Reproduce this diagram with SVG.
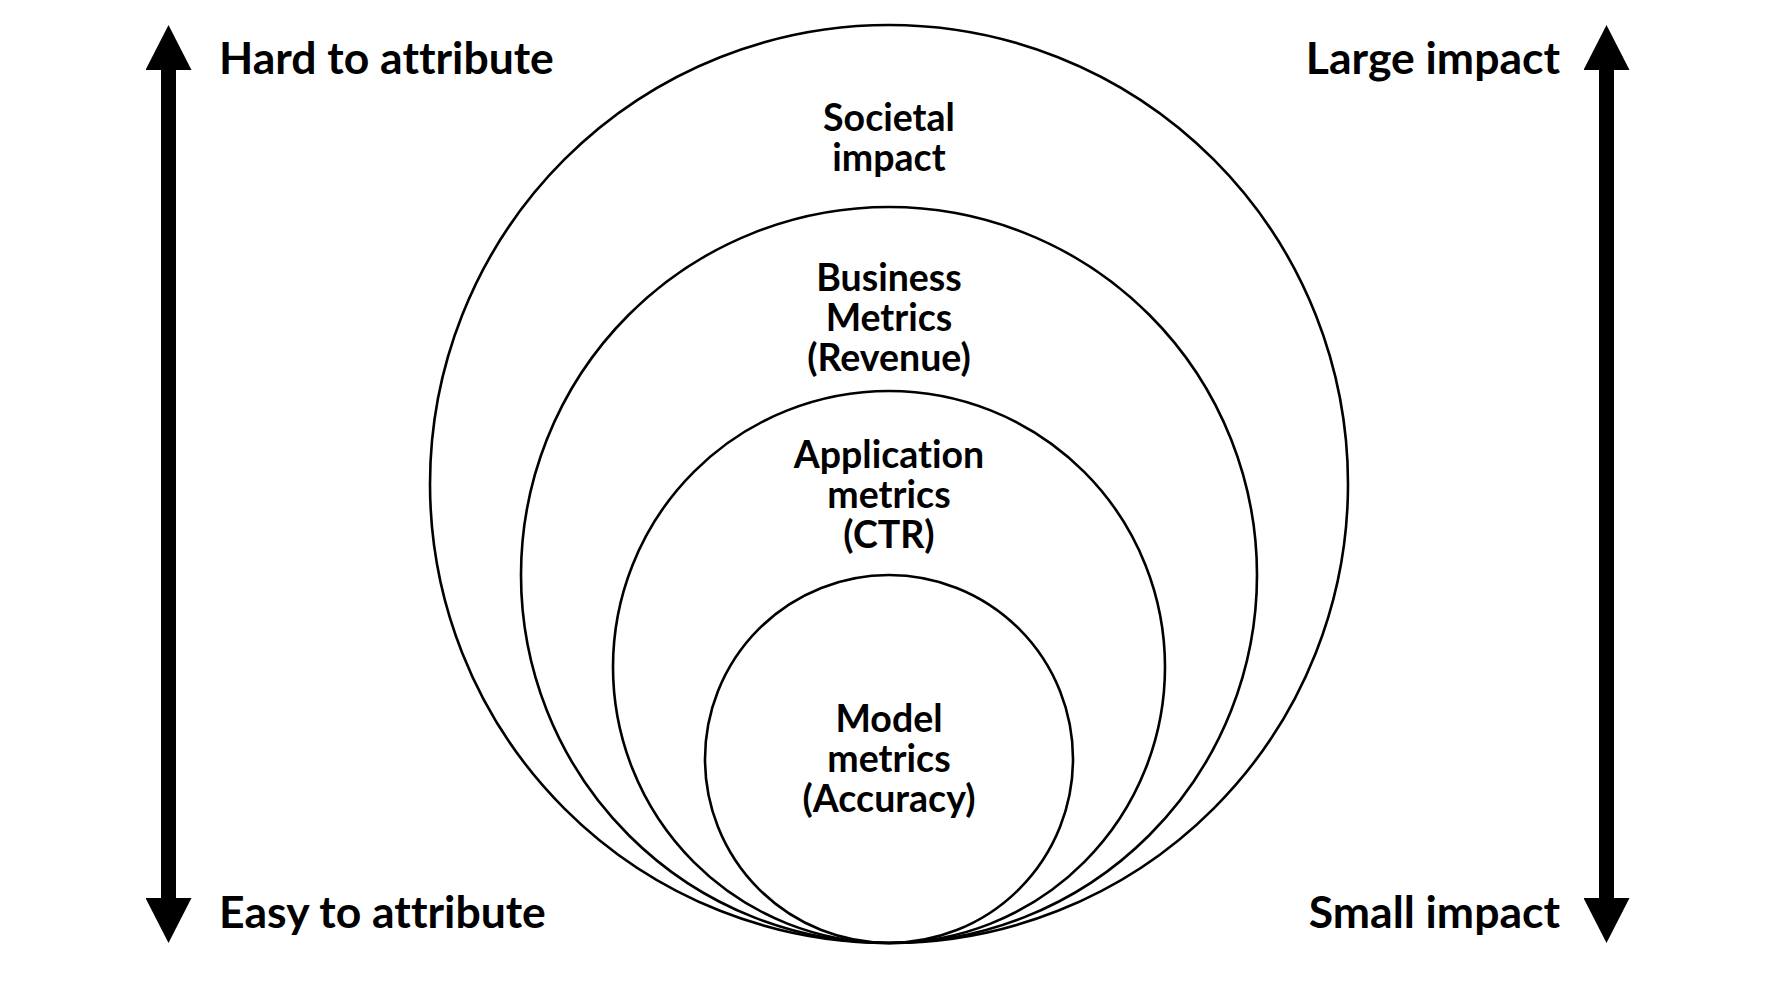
<svg xmlns="http://www.w3.org/2000/svg" width="1778" height="1000" viewBox="0 0 1778 1000">
  <defs>
    <style>
      .ring { fill: none; stroke: #000; stroke-width: 2.6; }
      .lbl { font-family: Lato, "Liberation Sans", sans-serif; font-weight: 700; fill: #000; font-variant-ligatures: none; }
      .side { font-size: 44.5px; }
      .inner { font-size: 37.5px; text-anchor: middle; }
      .axis { stroke: #000; stroke-width: 15; fill: none; marker-start: url(#head); marker-end: url(#head); }
    </style>
    <marker id="head" markerUnits="userSpaceOnUse" viewBox="0 0 45 46" refX="1" refY="23" markerWidth="45" markerHeight="46" orient="auto-start-reverse">
      <path d="M0,0 L45,23 L0,46 z" fill="#000"/>
    </marker>
  </defs>
  <rect width="1778" height="1000" fill="#fff"/>

  <g id="societal">
    <circle class="ring" cx="889" cy="484" r="459"/>
    <text class="lbl inner" x="889" y="131">Societal</text>
    <text class="lbl inner" x="889" y="171">impact</text>
  </g>
  <g id="business">
    <circle class="ring" cx="889" cy="575" r="368"/>
    <text class="lbl inner" x="889" y="291">Business</text>
    <text class="lbl inner" x="889" y="331">Metrics</text>
    <text class="lbl inner" x="889" y="371">(Revenue)</text>
  </g>
  <g id="application">
    <circle class="ring" cx="889" cy="667" r="276"/>
    <text class="lbl inner" x="889" y="468">Application</text>
    <text class="lbl inner" x="889" y="508">metrics</text>
    <text class="lbl inner" x="889" y="548">(CTR)</text>
  </g>
  <g id="model">
    <circle class="ring" cx="889" cy="759" r="184"/>
    <text class="lbl inner" x="889" y="732">Model</text>
    <text class="lbl inner" x="889" y="772">metrics</text>
    <text class="lbl inner" x="889" y="812">(Accuracy)</text>
  </g>

  <g id="connectors">
    <line class="axis" x1="168.5" y1="69" x2="168.5" y2="899"/>
    <line class="axis" x1="1606.5" y1="69" x2="1606.5" y2="899"/>
  </g>

  <g id="left-labels">
    <text class="lbl side" x="219" y="74">Hard to attribute</text>
    <text class="lbl side" x="219" y="928">Easy to attribute</text>
  </g>
  <g id="right-labels">
    <text class="lbl side" x="1560" y="74" text-anchor="end">Large impact</text>
    <text class="lbl side" x="1560" y="928" text-anchor="end">Small impact</text>
  </g>
</svg>
